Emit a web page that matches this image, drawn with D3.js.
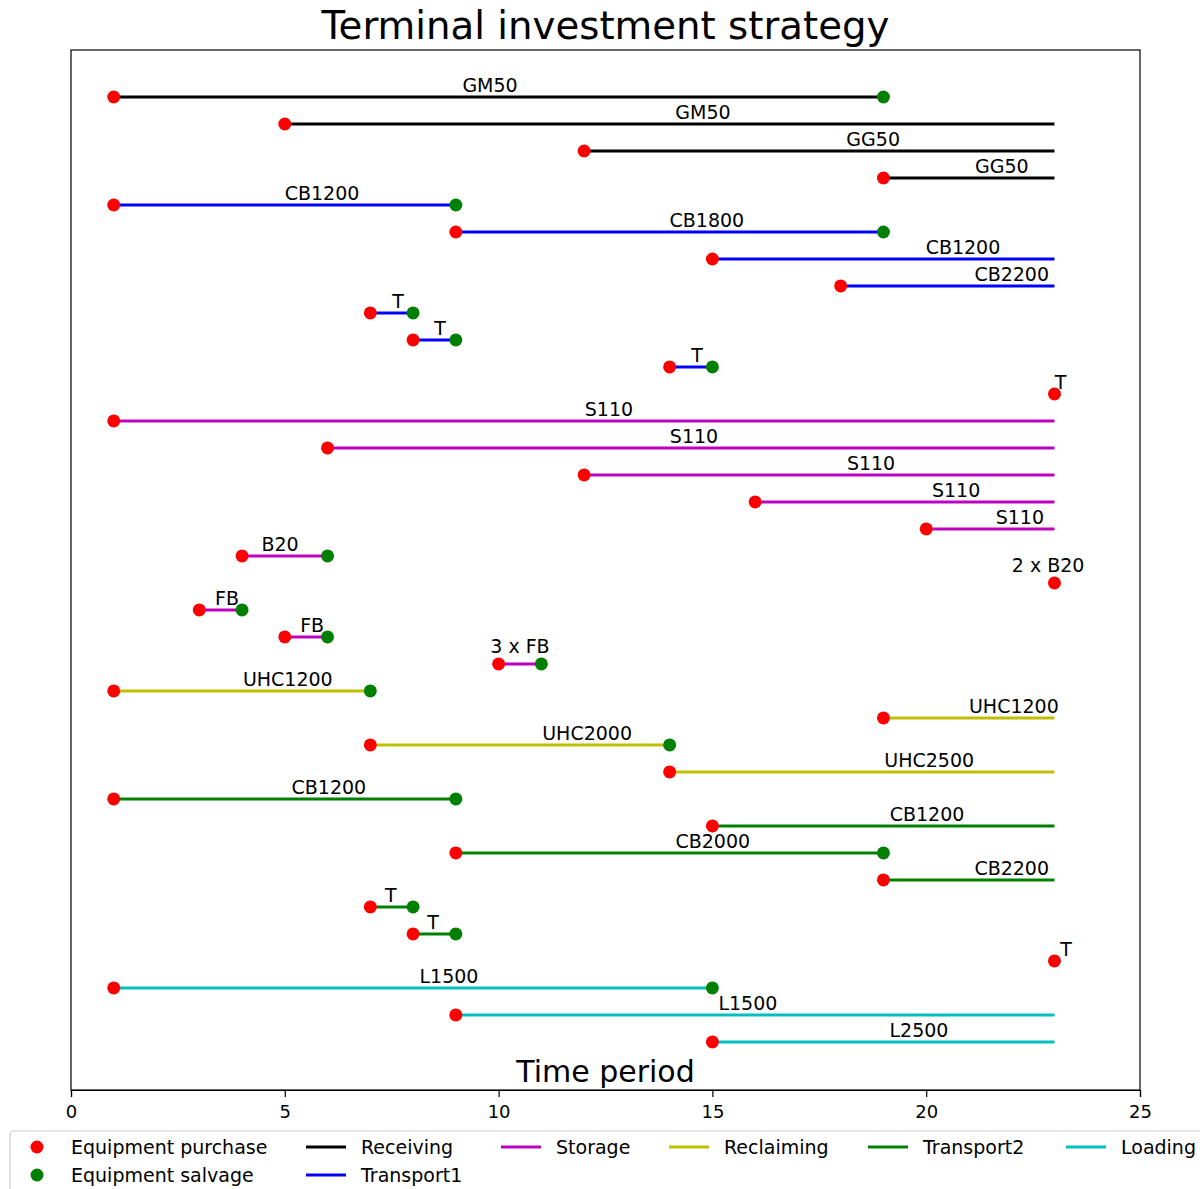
<!DOCTYPE html>
<html>
<head>
<meta charset="utf-8">
<script src="https://cdn.jsdelivr.net/npm/d3@7"></script>
<style>
  body { margin: 0; background: #fff; }
  svg { display: block; font-family: "DejaVu Sans", sans-serif; }
</style>
</head>
<body>
<svg id="chart" width="1200" height="1189"></svg>
<script>
// ---- data ----
const labels = ["GM50","GM50","GG50","GG50","CB1200","CB1800","CB1200","CB2200","T","T","T","T",
  "S110","S110","S110","S110","S110","B20","2 x B20","FB","FB","3 x FB",
  "UHC1200","UHC1200","UHC2000","UHC2500","CB1200","CB1200","CB2000","CB2200","T","T","T",
  "L1500","L1500","L2500"];
const subsystems = ["Receiving","Receiving","Receiving","Receiving",
  "Transport1","Transport1","Transport1","Transport1","Transport1","Transport1","Transport1","Transport1",
  "Storage","Storage","Storage","Storage","Storage","Storage","Storage","Storage","Storage","Storage",
  "Reclaiming","Reclaiming","Reclaiming","Reclaiming",
  "Transport2","Transport2","Transport2","Transport2","Transport2","Transport2","Transport2",
  "Loading","Loading","Loading"];
const purchaseTimes = [1,5,12,19, 1,9,15,18,7,8,14,23, 1,6,12,16,20,4,23,3,5,10, 1,19,7,14, 1,15,9,19,7,8,23, 1,9,15];
const endTimes      = [19,23,23,23, 9,19,23,23,8,9,15,23, 23,23,23,23,23,6,23,4,6,11, 7,23,14,23, 9,23,19,23,8,9,23, 15,23,23];
const salvaged      = [1,0,0,0, 1,1,0,0,1,1,1,0, 0,0,0,0,0,1,0,1,1,1, 1,0,1,0, 1,0,1,0,1,1,0, 1,0,0];
const labelAt       = [9.8,14.78,18.76,21.77, 5.87,14.87,20.86,22.0,7.65,8.63,14.64,23.14,
  12.58,14.57,18.71,20.70,22.19,4.89,22.85,3.65,5.64,10.50,
  5.07,22.05,12.07,20.07, 6.03,20.02,15.01,22.0,7.48,8.47,23.27,
  8.84,15.83,19.83];
const xTicks = [0,5,10,15,20,25];
const subsystemNames = ["Receiving","Transport1","Storage","Reclaiming","Transport2","Loading"];
const markerNames = ["Equipment purchase","Equipment salvage"];

// ---- styles ----
const lineColors = {Receiving:"#000000", Transport1:"#0000ff", Storage:"#bf00bf",
  Reclaiming:"#bfbf00", Transport2:"#008000", Loading:"#00bfbf"};
const purchaseColor = "#ff0000", salvageColor = "#008000";

const rows = labels.map((l,i)=>({i, label:l, sys:subsystems[i], s:purchaseTimes[i], e:endTimes[i],
  salv:!!salvaged[i], lx:labelAt[i]}));

const svg = d3.select("#chart");
const L = 71, R = 1140, T = 50, B = 1090;
const x = d3.scaleLinear().domain([0,25]).range([L,R]);
const y = d3.scaleLinear().domain([-1.74, 36.78]).range([T,B]);

// frame
svg.append("rect").attr("x",L).attr("y",T).attr("width",R-L).attr("height",B-T)
  .attr("fill","none").attr("stroke","#000").attr("stroke-width",1.2);

// title
svg.append("text").attr("x",(L+R)/2).attr("y",39).attr("text-anchor","middle")
  .attr("font-size",38.7).text("Terminal investment strategy");

// lines
svg.append("g").selectAll("line").data(rows.filter(d=>d.e>d.s)).join("line")
  .attr("x1",d=>x(d.s)).attr("x2",d=>x(d.e))
  .attr("y1",d=>y(d.i)).attr("y2",d=>y(d.i))
  .attr("stroke",d=>lineColors[d.sys]).attr("stroke-width",3);

// labels (multiplied-unit labels sit a little higher)
svg.append("g").selectAll("text").data(rows).join("text")
  .attr("x",d=>x(d.lx)).attr("y",d=>y(d.i) - (/^\d+ x /.test(d.label) ? 11 : 5))
  .attr("text-anchor","middle").attr("font-size",19).attr("fill","#000")
  .text(d=>d.label);

// markers
svg.append("g").selectAll("circle").data(rows).join("circle")
  .attr("cx",d=>x(d.s)).attr("cy",d=>y(d.i)).attr("r",6.5).attr("fill",purchaseColor);
svg.append("g").selectAll("circle").data(rows.filter(d=>d.salv)).join("circle")
  .attr("cx",d=>x(d.e)).attr("cy",d=>y(d.i)).attr("r",6.5).attr("fill",salvageColor);

// x label (inside axes)
svg.append("text").attr("x",(L+R)/2).attr("y",1082).attr("text-anchor","middle")
  .attr("font-size",30).text("Time period");

// x axis
const ax = svg.append("g").attr("transform",`translate(0,${B})`)
  .call(d3.axisBottom(x).tickValues(xTicks).tickFormat(d3.format("d")).tickSize(7).tickPadding(8));
ax.select(".domain").attr("stroke","#000").attr("stroke-width",1.2);
ax.selectAll(".tick line").attr("stroke","#000").attr("stroke-width",1.2);
ax.selectAll(".tick text").attr("font-size",18).attr("fill","#000").attr("font-family","DejaVu Sans, sans-serif");

// legend
const lg = svg.append("g");
lg.append("rect").attr("x",10).attr("y",1131).attr("width",1200).attr("height",70)
  .attr("rx",4).attr("fill","#fff").attr("stroke","#cccccc").attr("stroke-width",1.2);
const mk = [{name:markerNames[0], c:purchaseColor, row:0},{name:markerNames[1], c:salvageColor, row:1}];
mk.forEach(m=>{
  const yy = 1147 + m.row*28;
  lg.append("circle").attr("cx",37).attr("cy",yy).attr("r",6.5).attr("fill",m.c);
  lg.append("text").attr("x",71).attr("y",yy+7).attr("font-size",19).text(m.name);
});
const colX = [306, 501, 669, 868, 1066];
const placement = {Receiving:[0,0], Transport1:[0,1], Storage:[1,0], Reclaiming:[2,0], Transport2:[3,0], Loading:[4,0]};
subsystemNames.forEach(n=>{
  const [c,r] = placement[n];
  const xx = colX[c], yy = 1147 + r*28;
  lg.append("line").attr("x1",xx).attr("x2",xx+40).attr("y1",yy).attr("y2",yy)
    .attr("stroke",lineColors[n]).attr("stroke-width",3);
  lg.append("text").attr("x",xx+55).attr("y",yy+7).attr("font-size",19).text(n);
});
</script>
</body>
</html>
